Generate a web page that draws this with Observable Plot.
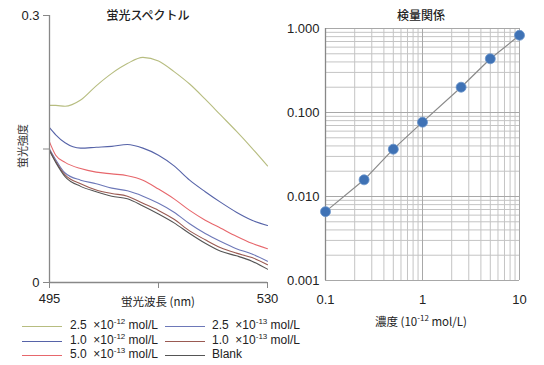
<!DOCTYPE html>
<html><head><meta charset="utf-8">
<script src="https://cdn.jsdelivr.net/npm/d3@7"></script>
<script src="https://cdn.jsdelivr.net/npm/@observablehq/plot@0.6"></script>
<style>
body{margin:0;background:#fff;}
#wrap{position:relative;width:544px;height:365px;overflow:hidden;font-family:"Liberation Sans","Noto Sans CJK JP",sans-serif;color:#222;}
.abs{position:absolute;}
.ttl{font-family:"Noto Sans CJK JP",sans-serif;font-size:12px;color:#222;white-space:nowrap;}
.leg{position:absolute;font-size:12px;white-space:nowrap;color:#222;}
.leg .ln{position:absolute;height:0;border-top:1.3px solid;width:40px;}
sup{font-size:8px;vertical-align:5px;line-height:0;}
</style>
</head><body>
<div id="wrap">
  <div id="left" class="abs" style="left:0;top:0"></div>
  <div id="right" class="abs" style="left:260px;top:0"></div>
  <div class="abs ttl" style="left:148px;top:6px;transform:translateX(-50%);font-weight:500">蛍光スペクトル</div>
  <div class="abs ttl" style="left:421px;top:6px;transform:translateX(-50%);font-weight:500">検量関係</div>
  <div class="abs ttl" style="left:22px;top:146px;transform:translate(-50%,-50%) rotate(-90deg);font-size:11px;color:#333">蛍光強度</div>
  <div class="abs ttl" style="left:158px;top:293px;transform:translateX(-50%);font-size:11.5px">蛍光波長 (nm)</div>
  <div class="abs ttl" style="left:421px;top:313px;transform:translateX(-50%);font-size:11.5px">濃度 (10<sup>-12</sup> mol/L)</div>
  <div id="legend"></div>
</div>
<script>
// ---- spectrum data ----
const wavelengths = [495, 496, 497.5, 500, 502.5, 505, 507.5, 510, 512.5, 515, 517.5, 520, 522.5, 525, 527.5, 530];
const s25e12 = [0.199, 0.199, 0.198, 0.205, 0.221, 0.235, 0.246, 0.253, 0.249, 0.237, 0.223, 0.206, 0.188, 0.170, 0.151, 0.131];
const s10e12 = [0.174, 0.166, 0.157, 0.151, 0.152, 0.153, 0.155, 0.151, 0.143, 0.131, 0.115, 0.102, 0.090, 0.079, 0.070, 0.064];
const s50e13 = [0.158, 0.143, 0.135, 0.128, 0.124, 0.122, 0.120, 0.115, 0.105, 0.094, 0.081, 0.070, 0.061, 0.052, 0.044, 0.038];
const s25e13 = [0.150, 0.138, 0.123, 0.115, 0.111, 0.106, 0.103, 0.097, 0.089, 0.079, 0.066, 0.055, 0.046, 0.038, 0.032, 0.024];
const s10e13 = [0.149, 0.136, 0.121, 0.111, 0.104, 0.100, 0.097, 0.089, 0.081, 0.071, 0.058, 0.048, 0.039, 0.033, 0.028, 0.020];
const sBlank = [0.148, 0.135, 0.119, 0.108, 0.102, 0.097, 0.094, 0.086, 0.077, 0.067, 0.055, 0.044, 0.035, 0.030, 0.024, 0.015];
const seriesNames = ["2.5e-12", "1.0e-12", "5.0e-13", "2.5e-13", "1.0e-13", "Blank"];
const seriesMant = ["2.5", "1.0", "5.0", "2.5", "1.0", null];
const seriesExp = ["-12", "-12", "-13", "-13", "-13", null];
const seriesColors = ["#b7bd80", "#5663a8", "#e7676c", "#6d78b8", "#9a5a52", "#555555"];
const seriesValues = [s25e12, s10e12, s50e13, s25e13, s10e13, sBlank];

// ---- calibration data ----
const conc = [0.1, 0.25, 0.5, 1.0, 2.5, 5.0, 10];
const intensity = [0.0066, 0.0158, 0.0366, 0.0767, 0.200, 0.436, 0.83];

const spec = [];
seriesNames.forEach((n, i) => wavelengths.forEach((w, j) => spec.push({series: n, wl: w, v: seriesValues[i][j]})));
const calib = conc.map((c, i) => ({c, v: intensity[i]}));

const font = "Liberation Sans, Arial, sans-serif";

const left = Plot.plot({
  width: 280, height: 310,
  marginLeft: 49, marginRight: 13, marginTop: 15, marginBottom: 28,
  style: {fontFamily: font, fontSize: "13px", color: "#222", background: "transparent"},
  x: {domain: [495, 530]},
  y: {domain: [0, 0.3]},
  color: {domain: seriesNames, range: seriesColors},
  marks: [
    Plot.line(spec, {x: "wl", y: "v", z: "series", stroke: "series", strokeWidth: 1.1, curve: "monotone-x"}),
    Plot.ruleX([495], {stroke: "#888", strokeWidth: 1.3}),
    Plot.ruleY([0], {stroke: "#888", strokeWidth: 1.3}),
    Plot.axisX({ticks: [495, 512.5, 530], tickFormat: d => d === 512.5 ? "" : String(d), tickSize: 6, tickPadding: 5, stroke: "#888", label: null, fontSize: 13}),
    Plot.axisY({ticks: [0, 0.15, 0.3], tickFormat: d => d === 0.15 ? "" : (d === 0 ? "0" : String(d)), tickSize: 6, tickPadding: 4, stroke: "#888", label: null, fontSize: 13})
  ]
});
document.getElementById("left").appendChild(left);

const gx = [];
for (let d of [0.1, 1]) for (let k = 1; k <= 10; k++) gx.push(+(d * k).toFixed(3));
const gy = [];
for (let d of [0.001, 0.01, 0.1]) for (let k = 1; k <= 10; k++) gy.push(+(d * k).toFixed(4));

const right = Plot.plot({
  width: 284, height: 335,
  marginLeft: 65, marginRight: 25, marginTop: 28, marginBottom: 55,
  style: {fontFamily: font, fontSize: "13px", color: "#222", background: "transparent"},
  x: {type: "log", domain: [0.1, 10]},
  y: {type: "log", domain: [0.001, 1]},
  marks: [
    Plot.gridX(gx, {stroke: "#c4c4c4", strokeOpacity: 1, strokeWidth: 1}),
    Plot.gridY(gy, {stroke: "#c4c4c4", strokeOpacity: 1, strokeWidth: 1}),
    Plot.gridX([0.1, 1, 10], {stroke: "#a8a8a8", strokeOpacity: 1, strokeWidth: 1}),
    Plot.gridY([0.001, 0.01, 0.1, 1], {stroke: "#a8a8a8", strokeOpacity: 1, strokeWidth: 1}),
    Plot.ruleX([0.1], {stroke: "#888", strokeWidth: 1.3}),
    Plot.line(calib, {x: "c", y: "v", stroke: "#8a8a8a", strokeWidth: 1.2}),
    Plot.dot(calib, {x: "c", y: "v", r: 5, fill: "#3f72b5", stroke: "#6b95cc", strokeWidth: 0.8}),
    Plot.axisX({ticks: [0.1, 1, 10], tickFormat: d => String(d), tickSize: 0, tickPadding: 14, label: null, fontSize: 13}),
    Plot.axisY({ticks: [0.001, 0.01, 0.1, 1], tickFormat: d3.format(".3f"), tickSize: 0, tickPadding: 6, label: null, fontSize: 13})
  ]
});
document.getElementById("right").appendChild(right);

// legend
const leg = document.getElementById("legend");
const cols = [{lx: 22, tx: 70}, {lx: 165, tx: 212}];
const rows = [326, 341, 355];
const order = [0, 3, 1, 4, 2, 5];
order.forEach((si, k) => {
  const col = cols[k % 2], row = rows[Math.floor(k / 2)];
  const ln = document.createElement("div");
  ln.className = "leg";
  ln.innerHTML = `<div class="ln" style="left:${col.lx}px;top:${row}px;border-color:${seriesColors[si]}"></div>`;
  leg.appendChild(ln);
  const t = document.createElement("div");
  t.className = "leg";
  t.style.left = col.tx + "px";
  t.style.top = (row - 8) + "px";
  t.innerHTML = seriesMant[si] ? `${seriesMant[si]}&nbsp;&nbsp;×10<sup>${seriesExp[si]}</sup> mol/L` : "Blank";
  leg.appendChild(t);
});
</script>
</body></html>
